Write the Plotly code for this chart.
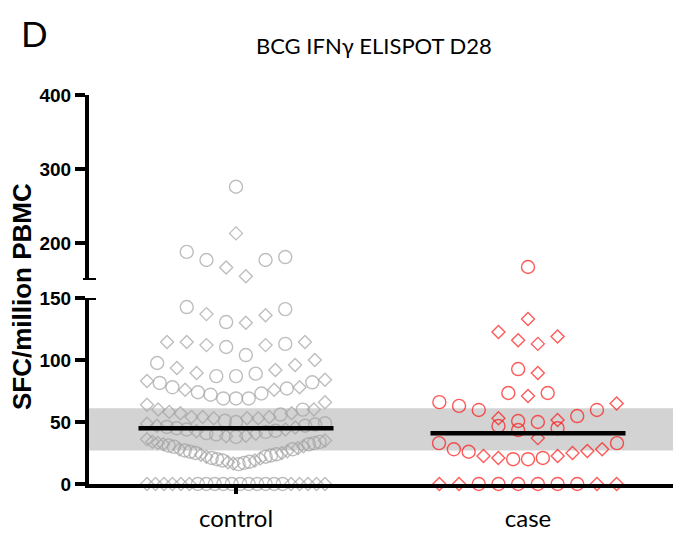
import numpy as np
import plotly.graph_objects as go

# ---------------- data ----------------
categories = ["control", "case"]
title_text = "BCG IFNγ ELISPOT D28"
panel_label = "D"
y_title = "SFC/million PBMC"

control_circles = [0] * 11 + [
    16, 17, 18, 19, 20, 21, 22, 23, 24, 25, 26, 27, 28, 30, 31, 32, 33, 34,
    38, 40, 41, 42, 43, 44, 45, 46, 47, 48, 49, 50, 51,
    56, 60,
    69, 69, 69, 72, 73, 74, 77, 78, 81.5, 82,
    87, 87, 89, 97.6,
    104, 110.5, 113,
    130.6, 141, 142.7,
    177, 177, 181, 188, 276]
control_diamonds = [0] * 11 + [
    16.5, 17.5, 19, 20.5, 22, 23.5, 25, 26.5, 28, 29, 30.5, 32, 33, 34, 35, 36,
    38.5, 39, 40.5, 42.5, 44, 45.5, 47, 48.5,
    53, 53, 53, 54, 54, 54, 57, 57, 58, 60, 60, 64, 66,
    76, 76, 78, 83, 84,
    89.5, 92, 93.5, 96, 100,
    112, 112, 114.5, 114.5, 114.5,
    130, 136, 137,
    155, 167, 213]
case_circles = [0] * 6 + [
    20, 20, 21, 26, 28, 33, 33,
    43.5, 45, 46.8, 50,
    50.8, 54.8, 59.7, 59.7, 63, 66,
    73.4, 73.4, 92.7, 167.6]
case_diamonds = [0] * 4 + [
    21, 22.6, 22.6, 25, 26.6, 28, 37,
    51.6, 53, 65, 71, 89.5,
    113, 116, 119, 122.6, 133]
medians = [45, 41]
band = [27, 61]
lower_ticks = [0, 50, 100, 150]
upper_ticks = [200, 300, 400]
axis_break = [150, 150, 400]  # lower max, upper min, upper max

# ---------------- layout helpers ----------------
W, H = 673, 533
ML, MR, MT, MB = 89, 0, 95, 49
PW = W - ML - MR
PH = H - MT - MB
PX_PER_UNIT = 292.0
X0 = -(236 - ML) / PX_PER_UNIT
X1 = X0 + PW / PX_PER_UNIT
LOW_TOP = (484 - 298) / PH
UP_BOT = (484 - 280) / PH

STEP_PX = 19.7
MAX_W_PX = 178
BIN_EDGES = [0, 5, 37, 50, 67, 86, 102, 125, 150, 200, 250, 300, 400]


def swarm(circles, diamonds, center):
    pts = [(v, "circle-open") for v in circles] + [(v, "diamond-open") for v in diamonds]
    bins = {}
    for v, s in pts:
        b = int(np.searchsorted(BIN_EDGES, v, side="right"))
        bins.setdefault(b, []).append((v, s))
    xs, ys, ss = [], [], []
    for b in sorted(bins):
        row = sorted(bins[b], key=lambda p: p[0])
        n = len(row)
        step = STEP_PX if n < 2 else min(STEP_PX, MAX_W_PX / (n - 1))
        slots = []
        if n % 2 == 1:
            slots.append(0)
            k = 1
            while len(slots) < n:
                slots.append(-k)
                if len(slots) < n:
                    slots.append(k)
                k += 1
        else:
            k = 0.5
            while len(slots) < n:
                slots.append(k)
                slots.append(-k)
                k += 1
        for (v, s), sl in zip(row, slots):
            xs.append(center + sl * step / PX_PER_UNIT)
            ys.append(v)
            ss.append(s)
    return np.array(xs), np.array(ys), np.array(ss)


fig = go.Figure()
colors = ["#a3a3a3", "#ff1414"]
groups = [(control_circles, control_diamonds), (case_circles, case_diamonds)]

for gi, (circ, diam) in enumerate(groups):
    xs, ys, ss = swarm(circ, diam, gi)
    for upper in (False, True):
        m = ys > axis_break[0] if upper else ys <= axis_break[0]
        if not m.any():
            continue
        sizes = [13 if s == "circle-open" else 10 for s in ss[m]]
        fig.add_trace(go.Scatter(
            x=xs[m], y=ys[m], mode="markers",
            yaxis="y2" if upper else "y",
            cliponaxis=False, showlegend=False, hoverinfo="skip",
            marker=dict(symbol=list(ss[m]), size=sizes, color=colors[gi],
                        line=dict(width=1.4, color=colors[gi]))))
    hw = 97.5 / PX_PER_UNIT
    fig.add_trace(go.Scatter(
        x=[gi - hw, gi + hw], y=[medians[gi], medians[gi]], mode="lines",
        line=dict(color="black", width=4.5), showlegend=False, hoverinfo="skip",
        cliponaxis=False))

tickfont = dict(family="Liberation Sans", size=19, color="black", weight="bold")
common_y = dict(showline=True, linewidth=4, linecolor="black", ticks="outside",
                ticklen=10, tickwidth=4, tickcolor="black", showgrid=False,
                zeroline=False, tickfont=tickfont, anchor="x")

fig.update_layout(
    width=W, height=H,
    margin=dict(l=ML, r=MR, t=MT, b=MB),
    paper_bgcolor="white", plot_bgcolor="white",
    xaxis=dict(range=[X0, X1], tickvals=[0, 1], ticktext=categories,
               showline=True, linewidth=4, linecolor="black", ticks="",
               showgrid=False, zeroline=False, anchor="y",
               ticklabelstandoff=10,
               tickfont=dict(family="Lato", size=24, color="black"),
               minor=dict(tickvals=[0], ticks="outside", ticklen=6,
                          tickwidth=4, tickcolor="black")),
    yaxis=dict(domain=[0, LOW_TOP], range=[0, axis_break[0]],
               tickvals=lower_ticks, **common_y),
    yaxis2=dict(domain=[UP_BOT, 1], range=[axis_break[1], axis_break[2]],
                tickvals=upper_ticks, **common_y),
    shapes=[
        dict(type="rect", xref="paper", x0=0, x1=1, yref="y",
             y0=band[0], y1=band[1], fillcolor="#d3d3d3",
             line=dict(width=0), layer="below"),
        dict(type="line", xref="paper", x0=-6 / PW, x1=7 / PW, yref="y2",
             y0=axis_break[1], y1=axis_break[1],
             line=dict(color="black", width=4)),
        dict(type="line", xref="paper", x0=0, x1=7 / PW, yref="y",
             y0=axis_break[0], y1=axis_break[0],
             line=dict(color="black", width=4)),
    ],
    annotations=[
        dict(text=title_text, xref="paper", yref="paper",
             x=(374 - ML) / PW, y=(484 - 45) / PH, showarrow=False,
             xanchor="center", yanchor="middle",
             font=dict(family="Lato", size=22, color="black")),
        dict(text=panel_label, xref="paper", yref="paper",
             x=(34 - ML) / PW, y=(484 - 33) / PH, showarrow=False,
             xanchor="center", yanchor="middle",
             font=dict(family="Lato", size=35, color="black")),
        dict(text="<b>" + y_title + "</b>", xref="paper", yref="paper",
             x=(22 - ML) / PW, y=(484 - 297) / PH, showarrow=False,
             textangle=-90, xanchor="center", yanchor="middle",
             font=dict(family="Liberation Sans", size=26, color="black")),
    ],
)

fig.write_html("out.html", config={"displayModeBar": False},
               post_script="document.body.style.margin='0';document.body.style.overflow='hidden';")
